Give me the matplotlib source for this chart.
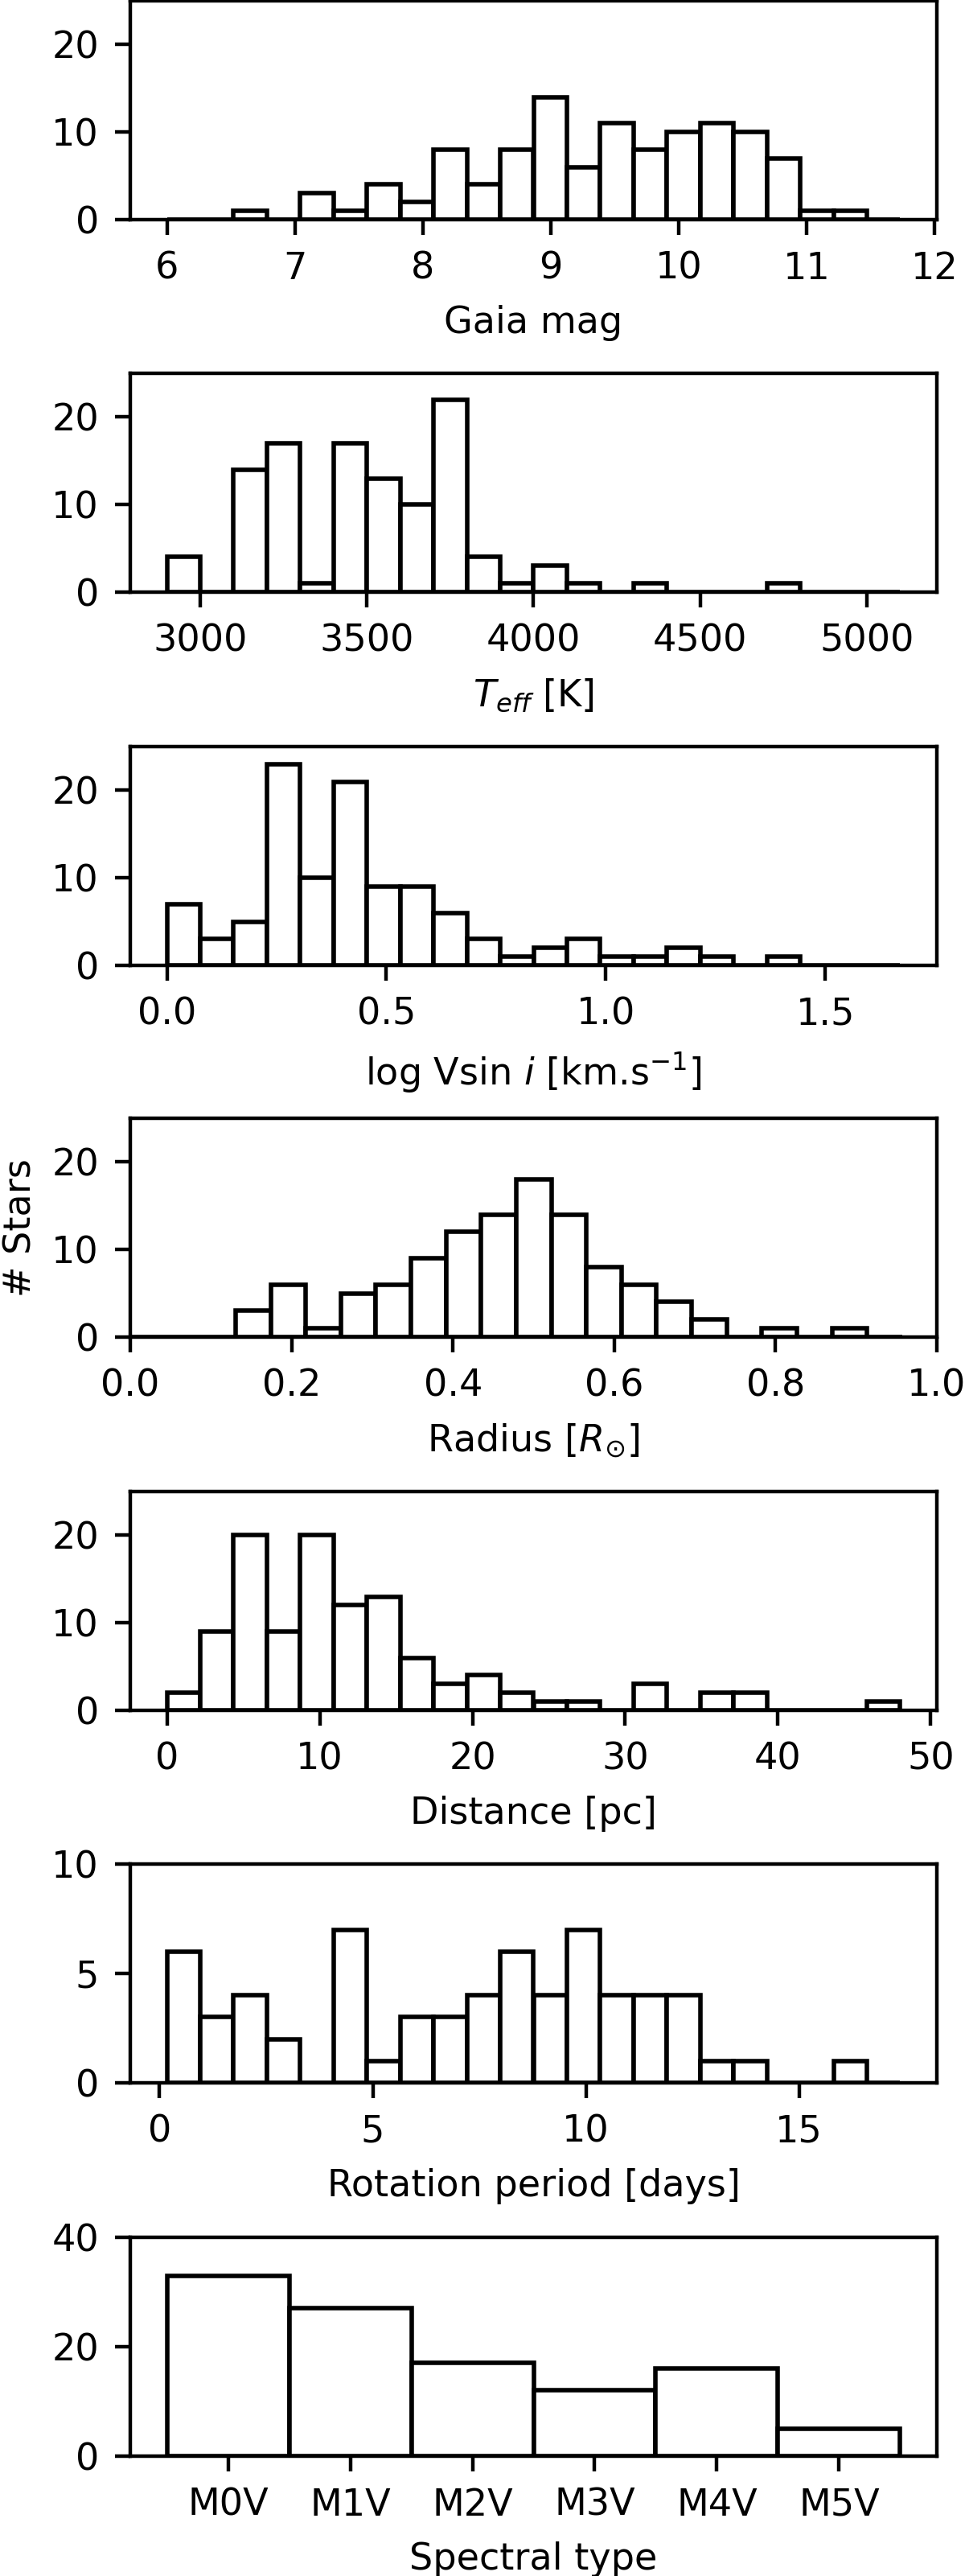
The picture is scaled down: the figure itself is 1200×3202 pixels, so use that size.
import numpy as np
import matplotlib
matplotlib.use('Agg')
import matplotlib.pyplot as plt

plt.rcParams['font.size'] = 8.3

# histogram counts (22 bins each)
gmag_range = (6.0, 11.73)
gmag_counts = [0, 0, 1, 0, 3, 1, 4, 2, 8, 4, 8, 14, 6, 11, 8, 10, 11, 10, 7, 1, 1, 0]

teff_range = (2900, 5100)
teff_counts = [4, 0, 14, 17, 1, 17, 13, 10, 22, 4, 1, 3, 1, 0, 1, 0, 0, 0, 1, 0, 0, 0]

vsini_range = (0.0, 1.671)
vsini_counts = [7, 3, 5, 23, 10, 21, 9, 9, 6, 3, 1, 2, 3, 1, 1, 2, 1, 0, 1, 0, 0, 0]

radius_range = (0.0, 0.957)
radius_counts = [0, 0, 0, 3, 6, 1, 5, 6, 9, 12, 14, 18, 14, 8, 6, 4, 2, 0, 1, 0, 1, 0]

dist_range = (0.0, 48.0)
dist_counts = [2, 9, 20, 9, 20, 12, 13, 6, 3, 4, 2, 1, 1, 0, 3, 0, 2, 2, 0, 0, 0, 1]

prot_range = (0.173, 17.37)
prot_counts = [6, 3, 4, 2, 0, 7, 1, 3, 3, 4, 6, 4, 7, 4, 4, 4, 1, 1, 0, 0, 1, 0]

sptypes = ['M0V', 'M1V', 'M2V', 'M3V', 'M4V', 'M5V']
sptype_counts = [33, 27, 17, 12, 16, 5]

panels = [
    (gmag_range, gmag_counts, 'Gaia mag', 25, [0, 10, 20]),
    (teff_range, teff_counts, r'$T_{eff}$ [K]', 25, [0, 10, 20]),
    (vsini_range, vsini_counts, r'log Vsin $i$ [km.s$^{-1}$]', 25, [0, 10, 20]),
    (radius_range, radius_counts, r'Radius [$R_{\odot}$]', 25, [0, 10, 20]),
    (dist_range, dist_counts, 'Distance [pc]', 25, [0, 10, 20]),
    (prot_range, prot_counts, 'Rotation period [days]', 10, [0, 5, 10]),
]

W, H = 1200, 3202
fig = plt.figure(figsize=(W / 400, H / 400), dpi=400)

tops = [1, 464, 928, 1390, 1854, 2317, 2781]
h_px = 272
left = 162 / W
width = (1165 - 162) / W

axes = []
for t in tops:
    axes.append(fig.add_axes([left, 1 - (t + h_px) / H, width, h_px / H]))

for ax, (rng, counts, label, ymax, yt) in zip(axes[:6], panels):
    edges = np.linspace(rng[0], rng[1], len(counts) + 1)
    centers = 0.5 * (edges[:-1] + edges[1:])
    ax.hist(centers, bins=edges, weights=counts, facecolor='white', edgecolor='black')
    ax.set_ylim(0, ymax)
    ax.set_yticks(yt)
    ax.set_xlabel(label)

axes[3].set_xlim(0, 1)
axes[3].set_ylabel('# Stars')
axes[3].yaxis.set_label_coords(-0.113, 0.5)

ax = axes[6]
x = np.arange(len(sptypes))
ax.bar(x, sptype_counts, width=1, facecolor='white', edgecolor='black')
ax.set_xticks(x)
ax.set_xticklabels(sptypes)
ax.set_ylim(0, 40)
ax.set_yticks([0, 20, 40])
ax.set_xlabel('Spectral type')

fig.savefig('out.png', dpi=400)
